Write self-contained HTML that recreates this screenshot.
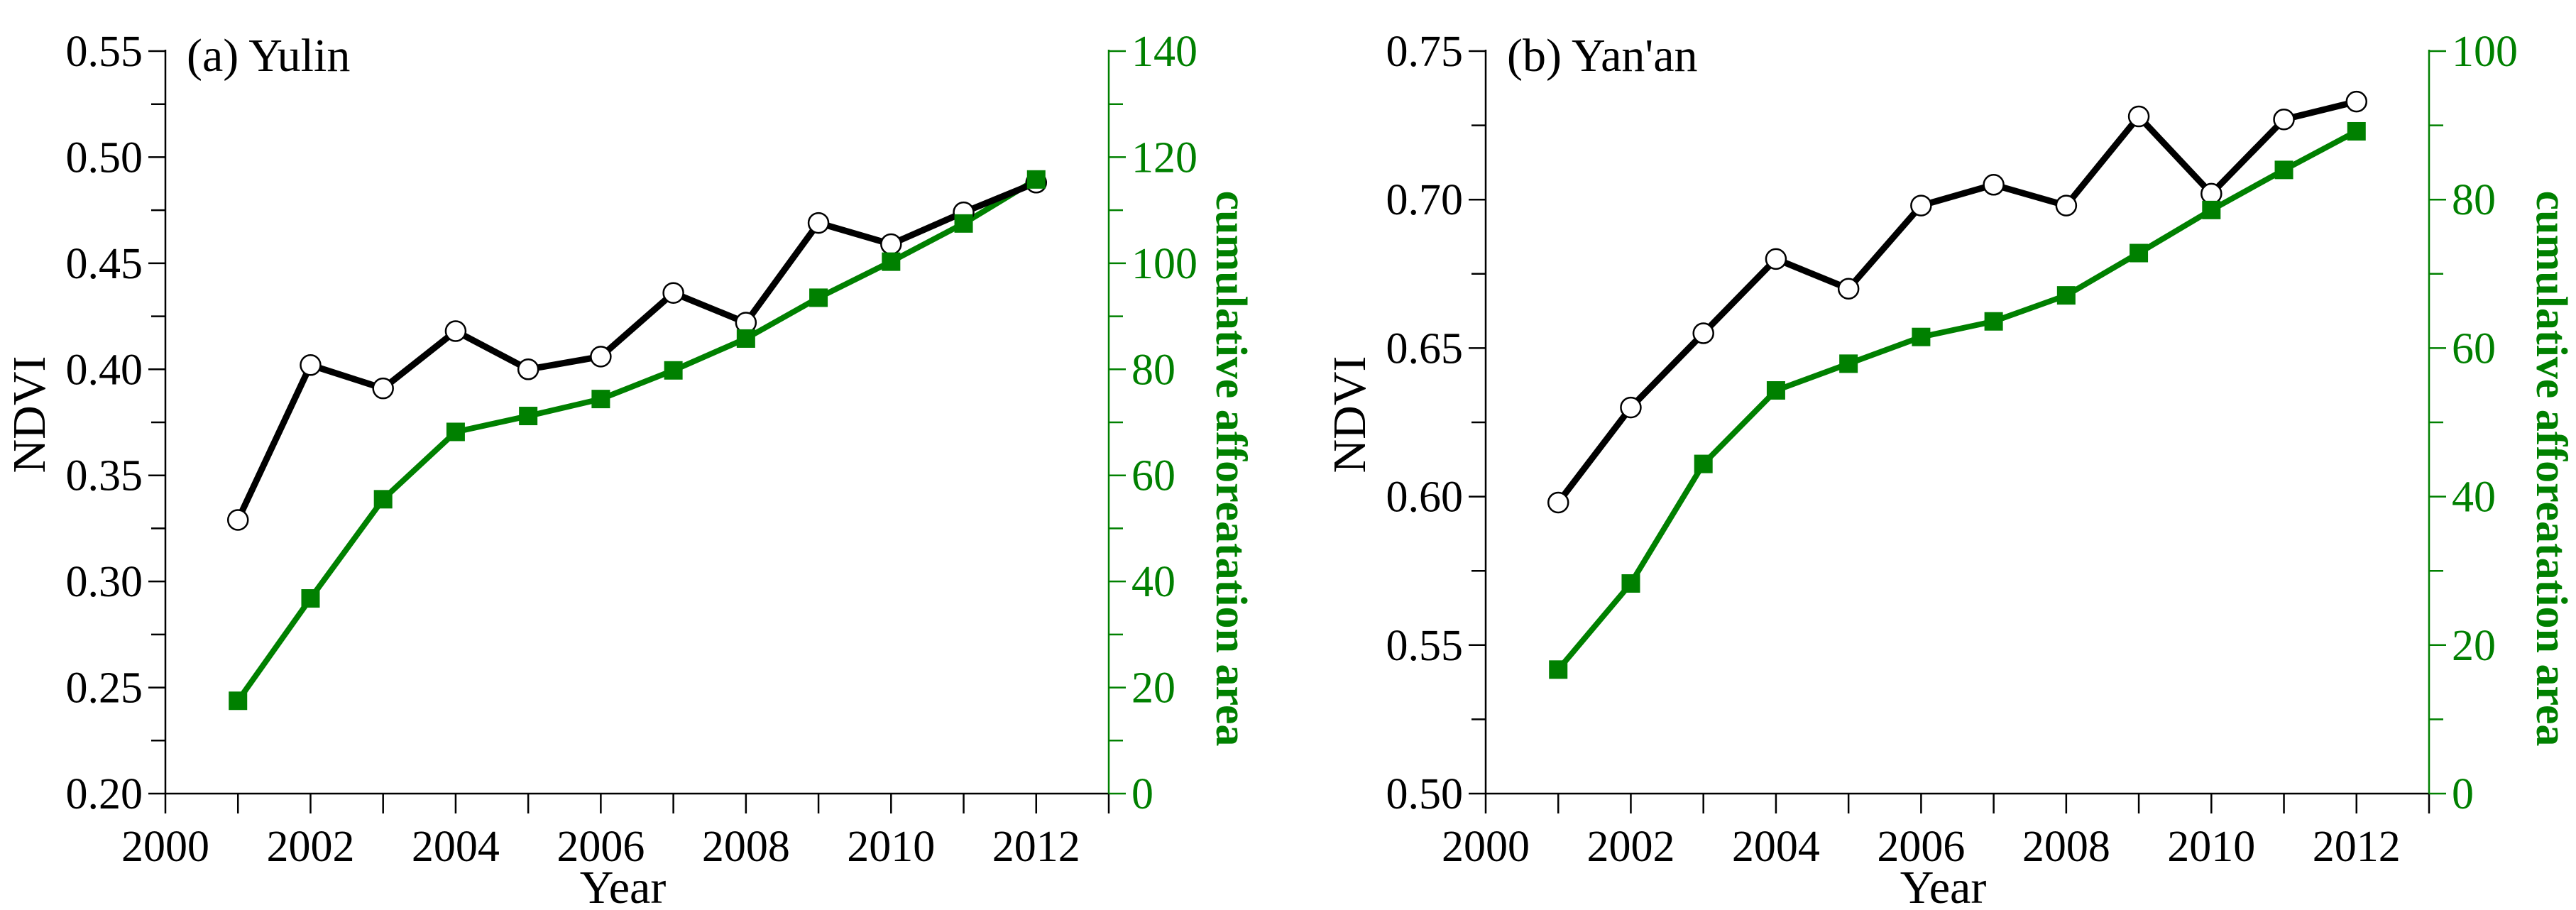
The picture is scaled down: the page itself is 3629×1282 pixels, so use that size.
<!DOCTYPE html>
<html><head><meta charset="utf-8"><style>
html,body{margin:0;padding:0;background:#fff;}
svg{display:block;font-family:"Liberation Serif",serif;}
</style></head><body>
<svg id="chart" width="3629" height="1282" viewBox="0 0 3629 1282" xmlns="http://www.w3.org/2000/svg"></svg>
<script>
const years = [2001,2002,2003,2004,2005,2006,2007,2008,2009,2010,2011,2012];
const xTickLabels = [2000,2002,2004,2006,2008,2010,2012];
const ndviYulin = [0.329,0.402,0.391,0.418,0.400,0.406,0.436,0.422,0.469,0.459,0.474,0.488];
const areaYulin = [17.5,36.8,55.5,68.2,71.2,74.4,79.8,85.8,93.5,100.3,107.5,115.8];
const ndviYanan = [0.598,0.630,0.655,0.680,0.670,0.698,0.705,0.698,0.728,0.702,0.727,0.733];
const areaYanan = [16.7,28.3,44.4,54.3,57.9,61.5,63.6,67.1,72.8,78.6,84.0,89.2];
const leftTicksYulin = ["0.20","0.25","0.30","0.35","0.40","0.45","0.50","0.55"];
const rightTicksYulin = [0,20,40,60,80,100,120,140];
const leftTicksYanan = ["0.50","0.55","0.60","0.65","0.70","0.75"];
const rightTicksYanan = [0,20,40,60,80,100];

const NS="http://www.w3.org/2000/svg";
const svg=document.getElementById('chart');
const GREEN="#008000";
function mk(tag,attrs,parent){const e=document.createElementNS(NS,tag);for(const k in attrs)e.setAttribute(k,attrs[k]);(parent||svg).appendChild(e);return e;}

function panel(id,cfg){
  const g=mk('g',{});
  
  
  const L=cfg.left,R=cfg.right,T=72,B=1118;
  const xs=v=>L+(v-2000)*(R-L)/13;
  const lmin=+cfg.lt[0],lmax=+cfg.lt[cfg.lt.length-1];
  const ys=v=>B-(v-lmin)/(lmax-lmin)*(B-T);
  const rmax=cfg.rt[cfg.rt.length-1];
  const yr=v=>B-v/rmax*(B-T);
  const la=mk('line',{x1:L,y1:T-2,x2:L,y2:B,stroke:'#000','stroke-width':2.5},g);
  
  
  const step=(lmax-lmin)/(cfg.lt.length-1);
  for(let i=0;i<cfg.lt.length;i++){
    const v=+cfg.lt[i],y=ys(v);
    mk('line',{x1:L-24,y1:y,x2:L,y2:y,stroke:'#000','stroke-width':2.5},g);
    if(i<cfg.lt.length-1){const ym=ys(v+step/2);mk('line',{x1:L-20,y1:ym,x2:L,y2:ym,stroke:'#000','stroke-width':2.5},g);}
    const t=mk('text',{x:L-32,y:y+21,'text-anchor':'end','font-size':62},g);t.textContent=cfg.lt[i];
    
    
  }
  const ba=mk('line',{x1:L,y1:B,x2:R,y2:B,stroke:'#000','stroke-width':2.5},g);
  
  
  for(let yv=2000;yv<=2013;yv++){const x=xs(yv);mk('line',{x1:x,y1:B,x2:x,y2:B+28,stroke:'#000','stroke-width':2.5},g);}
  xTickLabels.forEach(v=>{const t=mk('text',{x:xs(v),y:B+95,'text-anchor':'middle','font-size':62},g);t.textContent=v;
    
    });
  const ra=mk('line',{x1:R,y1:T-2,x2:R,y2:B,stroke:GREEN,'stroke-width':2.5},g);
  
  
  const rs=cfg.rt[1]-cfg.rt[0];
  cfg.rt.forEach((v,i)=>{const y=yr(v);
    mk('line',{x1:R,y1:y,x2:R+24,y2:y,stroke:GREEN,'stroke-width':2.5},g);
    if(i<cfg.rt.length-1){const ym=yr(v+rs/2);mk('line',{x1:R,y1:ym,x2:R+20,y2:ym,stroke:GREEN,'stroke-width':2.5},g);}
    const t=mk('text',{x:R+32,y:y+21,'text-anchor':'start','font-size':62,fill:GREEN},g);t.textContent=v;
    
    });
  const ti=mk('text',{x:L+30,y:100,'font-size':66},g);ti.textContent=cfg.title;
  
  
  const yl=mk('text',{x:0,y:0,'font-size':66,'text-anchor':'middle',transform:`translate(${L-170},584) rotate(-90)`},g);yl.textContent='NDVI';
  
  
  const xl=mk('text',{x:(L+R)/2-20,y:1272,'font-size':66,'text-anchor':'middle'},g);xl.textContent='Year';
  
  
  const rl=mk('text',{x:0,y:0,'font-size':62,'font-weight':'bold','text-anchor':'middle',fill:GREEN,transform:`translate(${R+152},660) rotate(90)`},g);rl.textContent='cumulative afforeatation area';
  
  
  const gp=years.map((yv,i)=>xs(yv)+','+yr(cfg.area[i])).join(' ');
  const gl=mk('polyline',{points:gp,fill:'none',stroke:GREEN,'stroke-width':8,'stroke-linejoin':'round'},g);
  
  
  const bp=years.map((yv,i)=>xs(yv)+','+ys(cfg.ndvi[i])).join(' ');
  const bl=mk('polyline',{points:bp,fill:'none',stroke:'#000','stroke-width':9,'stroke-linejoin':'round'},g);
  
  
  years.forEach((yv,i)=>{
    const c=mk('circle',{cx:xs(yv),cy:ys(cfg.ndvi[i]),r:14,fill:'#fff',stroke:'#000','stroke-width':2.5},g);
    
    
  });
  years.forEach((yv,i)=>{
    const s=mk('rect',{x:xs(yv)-13,y:yr(cfg.area[i])-13,width:26,height:26,fill:GREEN},g);
    
    
  });
}
panel('yulin',{left:233,right:1562,lt:leftTicksYulin,rt:rightTicksYulin,ndvi:ndviYulin,area:areaYulin,title:'(a) Yulin'});
panel('yanan',{left:2093,right:3422,lt:leftTicksYanan,rt:rightTicksYanan,ndvi:ndviYanan,area:areaYanan,title:"(b) Yan'an"});
</script>
</body></html>
